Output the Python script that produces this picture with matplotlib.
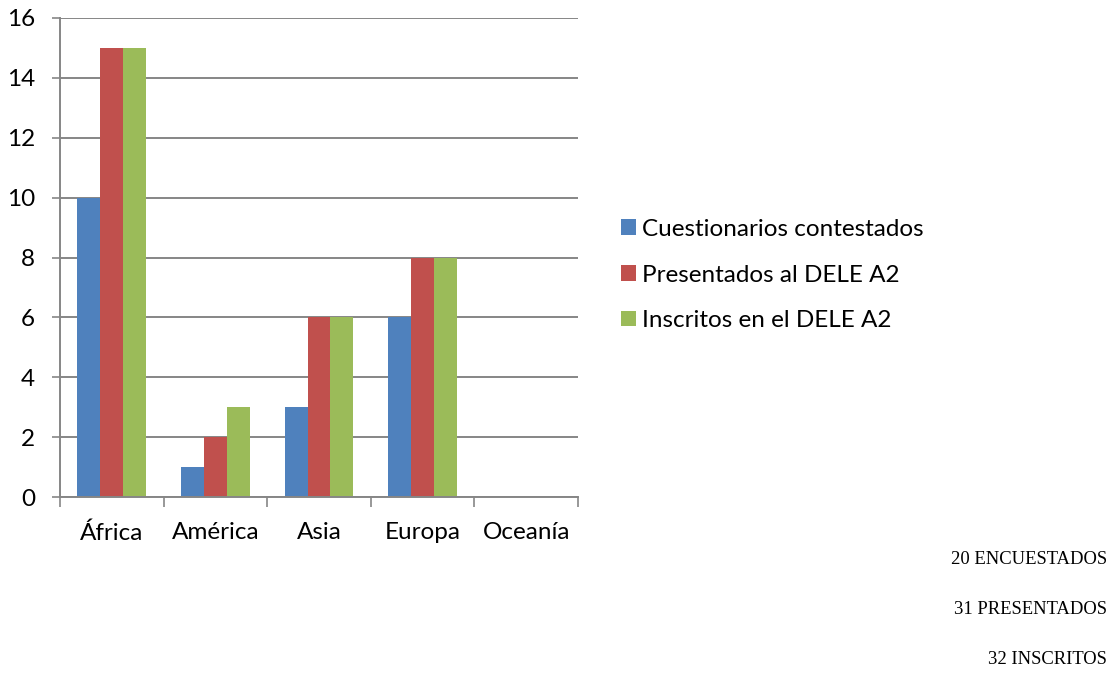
import matplotlib
matplotlib.use("Agg")
import matplotlib.pyplot as plt
import numpy as np
from matplotlib.patches import Patch

regions = ["África", "América", "Asia", "Europa", "Oceanía"]
series_names = ["Cuestionarios contestados", "Presentados al DELE A2", "Inscritos en el DELE A2"]
contestados = [10, 1, 3, 6, 0]
presentados = [15, 2, 6, 8, 0]
inscritos = [15, 3, 6, 8, 0]
yticks = [0, 2, 4, 6, 8, 10, 12, 14, 16]
totals = ["20 ENCUESTADOS", "31 PRESENTADOS", "32 INSCRITOS"]

colors = ["#4F81BD", "#C0504D", "#9BBB59"]
grid_color = "#868686"
sans = ["Lato", "DejaVu Sans"]
fs = 17.5

W, H = 1118, 684
fig = plt.figure(figsize=(W / 100, H / 100), dpi=100)
ax = fig.add_axes([60 / W, 1 - 497 / H, 518 / W, (497 - 18) / H])

x = np.arange(len(regions))
bw = 0.222
for i, vals in enumerate([contestados, presentados, inscritos]):
    ax.bar(x + (i - 1) * bw, vals, width=bw, color=colors[i], zorder=3,
           linewidth=0)

ax.set_xlim(-0.5, len(regions) - 0.5)
ax.set_ylim(0, 16)
ax.set_yticks(yticks)
ax.set_yticklabels([str(v) for v in yticks], fontsize=fs, family=sans)
ax.yaxis.grid(True, color=grid_color, linewidth=1.4, zorder=0)
ax.set_axisbelow(True)

# category labels centered, tick marks on boundaries
ax.set_xticks(x)
ax.set_xticklabels(regions, fontsize=fs, family=sans)
ax.tick_params(axis="x", which="major", length=0, pad=18)
ax.set_xticks(np.arange(len(regions) + 1) - 0.5, minor=True)
ax.tick_params(axis="x", which="minor", length=7, width=1.2, color=grid_color)
ax.tick_params(axis="y", length=6, width=1.2, color=grid_color, pad=12)

for side in ["top", "right"]:
    ax.spines[side].set_visible(False)
for side in ["left", "bottom"]:
    ax.spines[side].set_color(grid_color)
    ax.spines[side].set_linewidth(1.4)
    ax.spines[side].set_zorder(4)

handles = [Patch(facecolor=c, edgecolor="none") for c in colors]
fig.legend(handles, series_names, loc="center left",
           bbox_to_anchor=(621 / W, 1 - 275 / H), frameon=False,
           prop={"family": sans, "size": fs}, handlelength=0.6,
           handleheight=0.6, handletextpad=0.28, labelspacing=1.02,
           borderaxespad=0, borderpad=0)

for txt, yy in zip(totals, [559, 610, 660]):
    fig.text(1107 / W, 1 - yy / H, txt, ha="right", va="center",
             fontsize=13.4, family=["Liberation Serif", "DejaVu Serif"])

fig.savefig("out.png", dpi=100)
